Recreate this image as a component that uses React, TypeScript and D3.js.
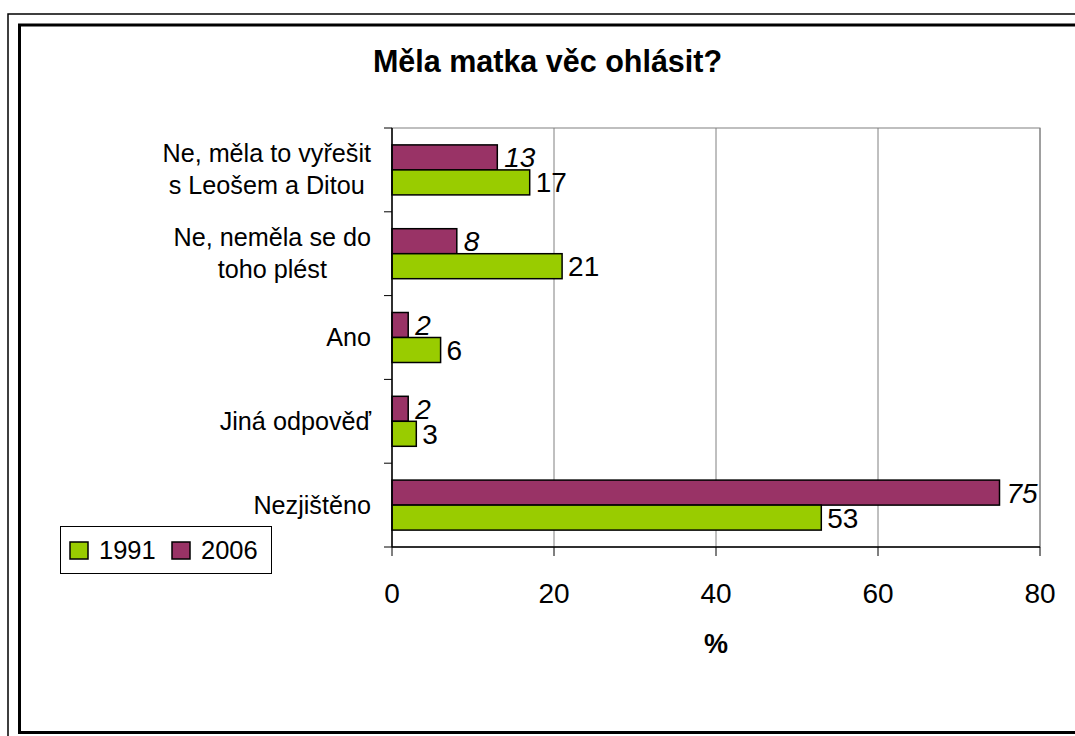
import React from "react";
import * as d3 from "d3";

const categories: string[][] = [
  ["Ne, měla to vyřešit", "s Leošem a Ditou"],
  ["Ne, neměla se do", "toho plést"],
  ["Ano"],
  ["Jiná odpověď"],
  ["Nezjištěno"],
];
const values1991 = [17, 21, 6, 3, 53];
const values2006 = [13, 8, 2, 2, 75];
const xTicks = [0, 20, 40, 60, 80];
const seriesNames = ["1991", "2006"];
const colors = ["#99CC00", "#993366"];
const title = "Měla matka věc ohlásit?";
const xTitle = "%";

const FONT = "'Liberation Sans', Arial, Helvetica, sans-serif";

function measure(text: string, size: number, weight = "normal"): number {
  if (typeof document === "undefined") return text.length * size * 0.5;
  const c = document.createElement("canvas");
  const ctx = c.getContext("2d")!;
  ctx.font = `${weight} ${size}px ${FONT}`;
  return ctx.measureText(text).width;
}

export default function App() {
  const W = 1075, H = 736;
  const left = 392, right = 1040, top = 128, bottom = 547;
  const x = d3.scaleLinear().domain([0, 80]).range([left, right]);
  const y = d3.scaleBand<number>().domain(d3.range(categories.length)).range([top, bottom]);
  const bh = 25;
  const catSize = 25.2;
  const numSize = 28;
  const labelRight = 371;

  return (
    <svg width={W} height={H} style={{ position: "absolute", left: 0, top: 0 }} fontFamily={FONT}>
      <rect x={0} y={0} width={W} height={H} fill="#fff" />
      <rect x={8} y={14} width={1200} height={900} fill="none" stroke="#000" strokeWidth={1.5} />
      <rect x={19.5} y={25} width={1200} height={707.5} fill="none" stroke="#000" strokeWidth={3} />

      <text x={547.5} y={72} textAnchor="middle" fontSize={30.5} fontWeight="bold" fill="#000">{title}</text>

      {/* plot area */}
      <rect x={left} y={top} width={right - left} height={bottom - top} fill="none" stroke="#808080" strokeWidth={1} />
      {xTicks.slice(1).map((t) => (
        <line key={t} x1={x(t)} x2={x(t)} y1={top} y2={bottom} stroke="#808080" strokeWidth={1} />
      ))}

      {/* bars */}
      {categories.map((_, i) => {
        const c = y(i)! + y.bandwidth() / 2;
        const y2006 = c - bh;
        const y1991 = c;
        return (
          <g key={i}>
            <rect x={x(0)} y={y2006} width={x(values2006[i]) - x(0)} height={bh} fill={colors[1]} stroke="#000" strokeWidth={1.5} />
            <rect x={x(0)} y={y1991} width={x(values1991[i]) - x(0)} height={bh} fill={colors[0]} stroke="#000" strokeWidth={1.5} />
            <text x={x(values2006[i]) + 7} y={y2006 + bh / 2 + 10} fontSize={numSize} fontStyle="italic" fill="#000">{values2006[i]}</text>
            <text x={x(values1991[i]) + 6} y={y1991 + bh / 2 + 10} fontSize={numSize} fill="#000">{values1991[i]}</text>
          </g>
        );
      })}

      {/* axes */}
      <line x1={left} x2={left} y1={top} y2={bottom} stroke="#000" strokeWidth={1.5} />
      <line x1={left} x2={right} y1={bottom} y2={bottom} stroke="#000" strokeWidth={1.5} />
      {d3.range(categories.length + 1).map((i) => {
        const yy = top + i * y.bandwidth();
        return <line key={i} x1={left - 8} x2={left} y1={yy} y2={yy} stroke="#000" strokeWidth={1} />;
      })}
      {xTicks.map((t) => (
        <g key={t}>
          <line x1={x(t)} x2={x(t)} y1={bottom} y2={bottom + 9} stroke="#000" strokeWidth={1} />
          <text x={x(t)} y={603} textAnchor="middle" fontSize={numSize} fill="#000">{t}</text>
        </g>
      ))}
      <text x={716} y={653} textAnchor="middle" fontSize={27} fontWeight="bold" fill="#000">{xTitle}</text>

      {/* category labels */}
      {categories.map((lines, i) => {
        const c = y(i)! + y.bandwidth() / 2;
        const maxW = Math.max(...lines.map((l) => measure(l, catSize)));
        const cx = labelRight - maxW / 2;
        const lh = 32;
        const startY = c - ((lines.length - 1) * lh) / 2 + 8.5;
        return (
          <text key={i} textAnchor="middle" fontSize={catSize} fill="#000">
            {lines.map((l, j) => (
              <tspan key={j} x={cx} y={startY + j * lh}>{l}</tspan>
            ))}
          </text>
        );
      })}

      {/* legend */}
      <rect x={60.5} y={526.5} width={211} height={47} fill="#fff" stroke="#000" strokeWidth={1} />
      {seriesNames.map((s, i) => {
        const sx = i === 0 ? 70 : 172;
        return (
          <g key={s}>
            <rect x={sx} y={542} width={18} height={17} fill={colors[i]} stroke="#000" strokeWidth={1.5} />
            <text x={sx + 29} y={559} fontSize={25.5} fill="#000">{s}</text>
          </g>
        );
      })}
    </svg>
  );
}
